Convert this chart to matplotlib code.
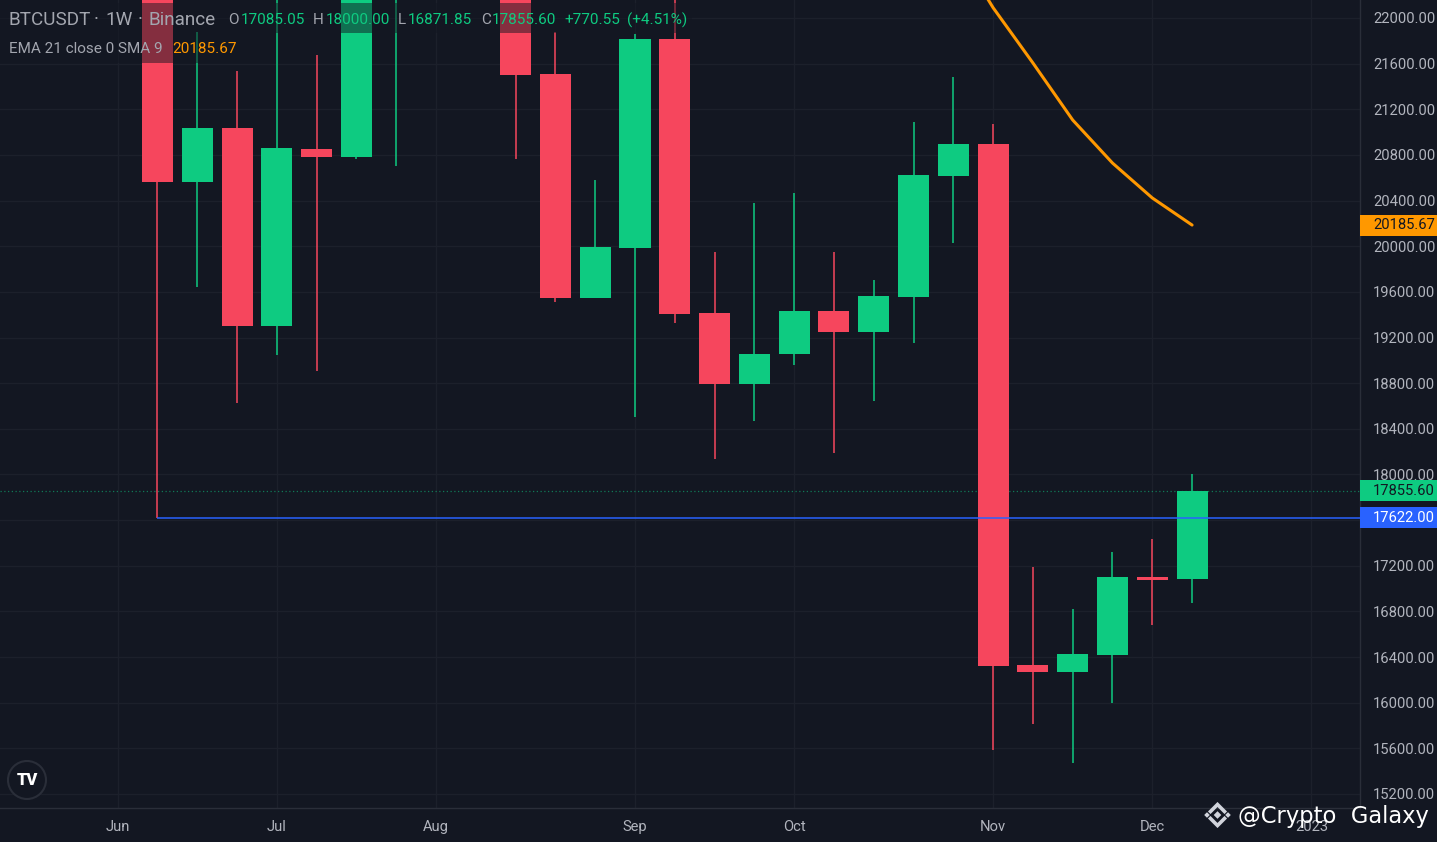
import numpy as np
import pandas as pd
import matplotlib
matplotlib.use("Agg")
import matplotlib.pyplot as plt
from matplotlib.patches import Rectangle, Circle, Polygon
from matplotlib.lines import Line2D
from matplotlib.transforms import blended_transform_factory, IdentityTransform

plt.rcParams['font.family'] = ['Roboto', 'DejaVu Sans']

W, H = 1437, 842

# 周线 K 线数据 (BTCUSDT 1W, Binance)
week_start = ["2022-06-06", "2022-06-13", "2022-06-20", "2022-06-27", "2022-07-04",
              "2022-07-11", "2022-07-18", "2022-07-25", "2022-08-01", "2022-08-08",
              "2022-08-15", "2022-08-22", "2022-08-29", "2022-09-05", "2022-09-12",
              "2022-09-19", "2022-09-26", "2022-10-03", "2022-10-10", "2022-10-17",
              "2022-10-24", "2022-10-31", "2022-11-07", "2022-11-14", "2022-11-21",
              "2022-11-28", "2022-12-05", "2022-12-12"]
opens = [31370, 26574, 20563, 21036, 19301, 20852, 20782, 22580, 23634, 23302,
         24442, 21509, 19546, 19985, 21816, 19415, 18793, 19056, 19433, 19248,
         19555, 20615, 20896, 16330, 16269, 16418, 17102, 17085.05]
highs = [31770, 26895, 21877, 21536, 22527, 21676, 24276, 24668, 23647, 25211,
         25211, 21877, 20580, 21860, 22673, 19950, 20379, 20467, 19950, 19704,
         21089, 21483, 21071, 17189, 16821, 17321, 17435, 18000.00]
lows = [26560, 17622, 19643, 18626, 19047, 18907, 20764, 20703, 22664, 22853,
        20764, 19511, 19546, 18504, 19327, 18136, 18469, 18959, 18188, 18644,
        19152, 20028, 15586, 15813, 15472, 15997, 16681, 16871.85]
closes = [26574, 20563, 21036, 19301, 20861, 20782, 22580, 23634, 23302, 24442,
          21500, 19546, 19993, 21816, 19406, 18793, 19056, 19433, 19248, 19564,
          20624, 20896, 16322, 16269, 16427, 17102, 17075, 17855.60]

# EMA 21 (只在可见区附近读取)
ema_weeks = ["2022-10-31", "2022-11-07", "2022-11-14", "2022-11-21",
             "2022-11-28", "2022-12-05", "2022-12-12"]
ema_values = [22660, 22090, 21606, 21106, 20729, 20423, 20185.67]

# 水平线 (6月低点)
level_price = 17622.00
level_start = "2022-06-13"

price_ticks = [15200, 15600, 16000, 16400, 16800, 17200, 17600, 18000, 18400,
               18800, 19200, 19600, 20000, 20400, 20800, 21200, 21600, 22000]
hidden_ticks = [17600]  # 被价格标签遮住
month_ticks = ["2022-06-06", "2022-07-04", "2022-08-01", "2022-09-05",
               "2022-10-03", "2022-11-07", "2022-12-05", "2023-01-02"]
month_labels = ["Jun", "Jul", "Aug", "Sep", "Oct", "Nov", "Dec", "2023"]

# 颜色
BG = '#131722'
GRID = '#1c202b'
SEP = '#2a2e39'
UP = '#0ecb81'
DOWN = '#f6465d'
TEXT = '#b2b5be'
TITLE = '#a3a6af'
EMA_C = '#ff9800'
BLUE = '#2962ff'

t0 = pd.Timestamp(week_start[0])


def wk(d):
    return (pd.Timestamp(d) - t0).days / 7.0


def fx(px):
    return px / W


def fy(py):
    return 1 - py / H


x = np.array([wk(d) for d in week_start])
o = np.array(opens)
h = np.array(highs)
l = np.array(lows)
c = np.array(closes)
cols = [UP if cc >= oo else DOWN for oo, cc in zip(o, c)]

fig = plt.figure(figsize=(W / 100, H / 100), dpi=100, facecolor=BG)
ax = fig.add_axes([0, (H - 808) / H, 1360 / W, 808 / H])
ax.set_facecolor(BG)

xlim = (-2.958, 31.22)
ylim = (15077.3, 22157.7)
ax.set_xlim(*xlim)
ax.set_ylim(*ylim)

# 网格
for p in price_ticks:
    ax.axhline(p, color=GRID, lw=1, zorder=0)
for d in month_ticks:
    ax.axvline(wk(d), color=GRID, lw=1, zorder=0)

# K 线
ax.vlines(x, l, h, colors=cols, lw=1.1, zorder=2)
body_bottom = np.minimum(o, c)
body_h = np.maximum(np.abs(c - o), 12)
ax.bar(x, body_h, bottom=body_bottom, width=0.78, color=cols, linewidth=0, zorder=3)

# EMA
ax.plot([wk(d) for d in ema_weeks], ema_values, color=EMA_C, lw=2.2, zorder=4,
        solid_joinstyle='round', solid_capstyle='round')

# 当前价虚线 & 蓝色水平线
ax.axhline(closes[-1], color=UP, lw=0.9, ls=(0, (1, 2)), alpha=0.55, zorder=1)
ax.hlines(level_price, wk(level_start), xlim[1], color=BLUE, lw=1.1, zorder=4)

# 坐标轴
for s in ['top', 'left']:
    ax.spines[s].set_visible(False)
ax.spines['right'].set_color(SEP)
ax.spines['bottom'].set_color(SEP)
ax.spines['right'].set_linewidth(1)
ax.spines['bottom'].set_linewidth(1)
ax.yaxis.tick_right()
ax.set_yticks(price_ticks)
ax.set_yticklabels(["" if p in hidden_ticks else f"{p:.2f}" for p in price_ticks])
ax.set_xticks([wk(d) for d in month_ticks])
ax.set_xticklabels(month_labels)
ax.tick_params(axis='y', length=0, pad=9.4, labelsize=10.6, labelcolor=TEXT)
ax.tick_params(axis='x', length=0, pad=8.6, labelsize=10.6, labelcolor=TEXT)

# 右侧价格标签
btf = blended_transform_factory(ax.transAxes, ax.transData)
tag_h = 21 * (ylim[1] - ylim[0]) / 808
for price, face, tc in [(ema_values[-1], EMA_C, '#131722'),
                        (closes[-1], UP, '#131722'),
                        (level_price, BLUE, 'white')]:
    ax.add_patch(Rectangle((1.0, price - tag_h / 2), W / 1360 - 1.0, tag_h,
                           transform=btf, facecolor=face, edgecolor='none',
                           clip_on=False, zorder=6))
    ax.text(1.0 + 13 / 1360, price, f"{price:.2f}", transform=btf, color=tc,
            fontsize=10.6, va='center', ha='left', clip_on=False, zorder=7)

# 图例背景
fig.add_artist(Rectangle((0, fy(33)), fx(692), 30 / H, transform=fig.transFigure,
                         facecolor=BG, alpha=0.5, edgecolor='none', zorder=1))
fig.add_artist(Rectangle((0, fy(63)), fx(242), 30 / H, transform=fig.transFigure,
                         facecolor=BG, alpha=0.5, edgecolor='none', zorder=1))

# 图例文字
for s, px in [("BTCUSDT", 9), ("·", 94), ("1W", 105), ("·", 138), ("Binance", 148)]:
    fig.text(fx(px), fy(20), s, color=TITLE, fontsize=13.6, va='center', ha='left')
chg = closes[-1] - opens[-1]
pct = chg / opens[-1] * 100
segs = [("O", 228, TITLE), (f"{opens[-1]:.2f}", 241, UP),
        ("H", 313, TITLE), (f"{highs[-1]:.2f}", 326, UP),
        ("L", 398, TITLE), (f"{lows[-1]:.2f}", 408, UP),
        ("C", 481, TITLE), (f"{closes[-1]:.2f}", 492, UP),
        (f"{chg:+.2f}", 564, UP), (f"({pct:+.2f}%)", 627, UP)]
for s, px, col in segs:
    fig.text(fx(px), fy(20), s, color=col, fontsize=11, va='center', ha='left')
fig.text(fx(9), fy(49), "EMA 21 close 0 SMA 9", color=TITLE, fontsize=11,
         va='center', ha='left')
fig.text(fx(172), fy(49), f"{ema_values[-1]:.2f}", color=EMA_C, fontsize=11,
         va='center', ha='left')

# TradingView 标志
fig.add_artist(Circle((27, H - 780), 19, transform=IdentityTransform(),
                      facecolor=BG, edgecolor='#2a2e39', lw=1.5, zorder=5))
fig.text(fx(27), fy(780), "TV", color='white', fontsize=12, fontweight='black',
         ha='center', va='center', zorder=6)

# 水印 (Binance 标志 + 文字)
cx, cy = 1217.5, H - 815
logo_c = '#d1d4dc'
idt = IdentityTransform()


def diamond(x0, y0, r):
    return Polygon([(x0, y0 + r), (x0 + r, y0), (x0, y0 - r), (x0 - r, y0)],
                   closed=True, transform=idt, facecolor=logo_c, edgecolor='none', zorder=8)


fig.add_artist(diamond(cx, cy, 3.8))
fig.add_artist(diamond(cx - 10.5, cy, 2.8))
fig.add_artist(diamond(cx + 10.5, cy, 2.8))
for sgn in (1, -1):
    fig.add_artist(Line2D([cx - 7, cx, cx + 7], [cy + sgn * 3.5, cy + sgn * 10.5, cy + sgn * 3.5],
                          transform=idt, color=logo_c, lw=2.6, zorder=8,
                          solid_joinstyle='miter'))
fig.text(fx(1238), fy(817), "@Crypto  Galaxy", color='white', fontsize=16.3,
         family='DejaVu Sans', ha='left', va='center', zorder=9)

fig.savefig("out.png", dpi=100, facecolor=BG)
